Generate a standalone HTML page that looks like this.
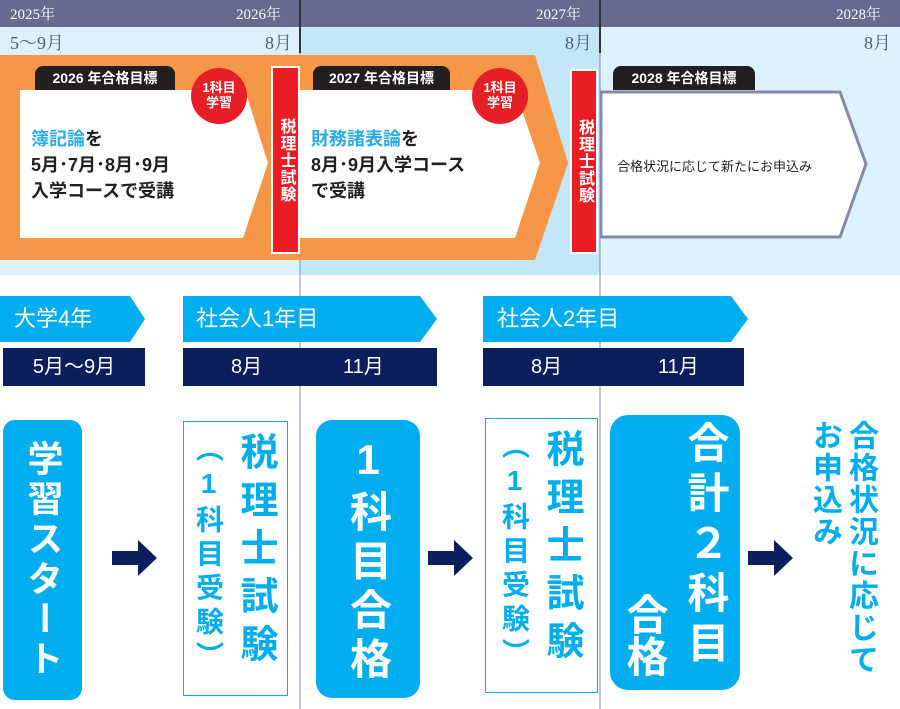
<!DOCTYPE html>
<html><head><meta charset="utf-8"><style>
body{margin:0;width:900px;height:709px;overflow:hidden;background:#fff;font-family:"Liberation Sans","Noto Sans CJK JP",sans-serif;position:relative}
.a{position:absolute}
.v{writing-mode:vertical-rl;text-orientation:upright;font-weight:bold}
.tab{position:absolute;background:#231f20;color:#fff;font-weight:bold;font-size:14px;border-radius:8px 8px 0 0;height:24px;line-height:25px;text-align:center}
.circ{position:absolute;width:56px;height:56px;border-radius:50%;background:#e61e25;color:#fff;font-weight:bold;font-size:13px;line-height:15px;text-align:center;box-sizing:border-box;padding-top:12px}
.exam{position:absolute;background:#ec1c24;border:2px solid #fff;color:#fff;font-size:16px;font-weight:bold;writing-mode:vertical-rl;text-orientation:upright;display:flex;align-items:center;justify-content:center;letter-spacing:1px}
.navy{position:absolute;background:#0b1f5c;color:#fff;font-size:20px;height:38px;line-height:38px}
.lab{position:absolute;color:#fff;font-size:22px;line-height:46px}
</style></head><body>
<svg class="a" style="left:0;top:0" width="900" height="709">
<rect x="0" y="27" width="300" height="248" fill="#dcf1fb"/>
<rect x="300" y="27" width="300" height="248" fill="#c3e7f9"/>
<rect x="600" y="27" width="300" height="248" fill="#ddf2fc"/>
<rect x="0" y="0" width="900" height="27" fill="#666a8f"/>
<line x1="300" y1="0" x2="300" y2="53" stroke="#333" stroke-width="2"/>
<line x1="600" y1="0" x2="600" y2="53" stroke="#333" stroke-width="2"/>
<line x1="300" y1="53" x2="300" y2="709" stroke="#7a8fb5" stroke-width="1"/>
<line x1="600" y1="53" x2="600" y2="709" stroke="#7a8fb5" stroke-width="1"/>
<polygon points="0,55 535,55 568,163 535,260 0,260" fill="#f79646"/>
<polygon points="20,90 245,90 268,163 243,238 20,238" fill="#fff"/>
<polygon points="300,90 515,90 540,163 515,238 300,238" fill="#fff"/>
<polygon points="601,92 840,92 866,164 840,237 601,237" fill="#fff" stroke="#8a88aa" stroke-width="3"/>
<polygon points="0,296 130,296 145,319 130,342 0,342" fill="#00aeef"/>
<polygon points="183,296 420,296 437,319 420,342 183,342" fill="#00aeef"/>
<polygon points="483,296 731,296 748,319 731,342 483,342" fill="#00aeef"/>
<g fill="#0b1f5c">
<polygon points="112,551 138,551 138,540 157,558 138,576 138,565 112,565"/>
<polygon points="428,551 454,551 454,540 473,558 454,576 454,565 428,565"/>
<polygon points="748,551 774,551 774,540 793,558 774,576 774,565 748,565"/>
</g>
</svg>
<div class="a" style="left:10px;top:3px;color:#fff;font-family:'Liberation Serif','Noto Serif CJK SC',serif;font-size:15px">2025年</div>
<div class="a" style="left:236px;top:3px;color:#fff;font-family:'Liberation Serif','Noto Serif CJK SC',serif;font-size:15px">2026年</div>
<div class="a" style="left:536px;top:3px;color:#fff;font-family:'Liberation Serif','Noto Serif CJK SC',serif;font-size:15px">2027年</div>
<div class="a" style="left:836px;top:3px;color:#fff;font-family:'Liberation Serif','Noto Serif CJK SC',serif;font-size:15px">2028年</div>
<div class="a" style="left:10px;top:29px;color:#55597d;font-family:'Liberation Serif','Noto Serif CJK SC',serif;font-size:18px">5～9月</div>
<div class="a" style="left:265px;top:29px;color:#55597d;font-family:'Liberation Serif','Noto Serif CJK SC',serif;font-size:18px">8月</div>
<div class="a" style="left:565px;top:29px;color:#55597d;font-family:'Liberation Serif','Noto Serif CJK SC',serif;font-size:18px">8月</div>
<div class="a" style="left:864px;top:29px;color:#55597d;font-family:'Liberation Serif','Noto Serif CJK SC',serif;font-size:18px">8月</div>

<div class="tab" style="left:35px;top:66px;width:140px">2026 年合格目標</div>
<div class="tab" style="left:313px;top:66px;width:137px">2027 年合格目標</div>
<div class="tab" style="left:613px;top:66px;width:142px">2028 年合格目標</div>
<div class="circ" style="left:191px;top:68px">1科目<br>学習</div>
<div class="circ" style="left:472px;top:68px">1科目<br>学習</div>
<div class="exam" style="left:271px;top:66px;width:25px;height:184px">税理士試験</div>
<div class="exam" style="left:570px;top:69px;width:24px;height:181px">税理士試験</div>
<div class="a" style="left:31px;top:126px;font-size:18px;font-weight:bold;line-height:26px;color:#231f20"><span style="color:#29abe2">簿記論</span>を<br>5月･7月･8月･9月<br>入学コースで受講</div>
<div class="a" style="left:311px;top:126px;font-size:18px;font-weight:bold;line-height:26px;color:#231f20"><span style="color:#29abe2">財務諸表論</span>を<br>8月･9月入学コース<br>で受講</div>
<div class="a" style="left:617px;top:156px;font-size:13px;color:#231f20">合格状況に応じて新たにお申込み</div>

<div class="lab" style="left:14px;top:296px">大学4年</div>
<div class="lab" style="left:196px;top:296px">社会人1年目</div>
<div class="lab" style="left:497px;top:296px">社会人2年目</div>
<div class="navy" style="left:3px;top:348px;width:142px;text-align:center">5月～9月</div>
<div class="navy" style="left:183px;top:348px;width:254px"><span class="a" style="left:48px">8月</span><span class="a" style="left:160px">11月</span></div>
<div class="navy" style="left:483px;top:348px;width:261px"><span class="a" style="left:48px">8月</span><span class="a" style="left:175px">11月</span></div>

<div class="a v" style="left:3px;top:420px;width:79px;height:280px;background:#00aeef;border-radius:12px;color:#fff;font-size:36px;letter-spacing:4px;display:flex;align-items:center;justify-content:center">学習スタート</div>
<div class="a" style="left:183px;top:421px;width:105px;height:275px;border:1.5px solid #00aeef;box-sizing:border-box;display:flex;flex-direction:row-reverse;justify-content:center;color:#00aeef">
<div class="v" style="font-size:38px;letter-spacing:10px;padding-top:10px">税理士試験</div><div class="v" style="font-size:28px;letter-spacing:6px;padding-top:12px">（1科目受験）</div></div>
<div class="a v" style="left:316px;top:420px;width:104px;height:278px;background:#00aeef;border-radius:16px;color:#fff;font-size:42px;letter-spacing:7px;display:flex;align-items:center;justify-content:center;padding-top:4px;box-sizing:border-box">1科目合格</div>
<div class="a" style="left:485px;top:418px;width:113px;height:275px;border:1.5px solid #00aeef;box-sizing:border-box;display:flex;flex-direction:row-reverse;justify-content:center;color:#00aeef">
<div class="v" style="font-size:38px;letter-spacing:10px;padding-top:10px">税理士試験</div><div class="v" style="font-size:28px;letter-spacing:6px;padding-top:12px">（1科目受験）</div></div>
<div class="a" style="left:610px;top:415px;width:130px;height:275px;background:#00aeef;border-radius:18px;color:#fff;display:flex;flex-direction:row-reverse;justify-content:center">
<div class="v" style="font-size:42px;letter-spacing:8px;padding-top:6px">合計２科目</div><div class="v" style="font-size:42px;padding-top:178px">合格</div></div>
<div class="a" style="left:806px;top:420px;display:flex;flex-direction:row-reverse;color:#00aeef">
<div class="v" style="font-size:30px;line-height:36px;letter-spacing:2px">合格状況に応じて</div><div class="v" style="font-size:30px;line-height:36px;letter-spacing:2px">お申込み</div></div>
</body></html>
